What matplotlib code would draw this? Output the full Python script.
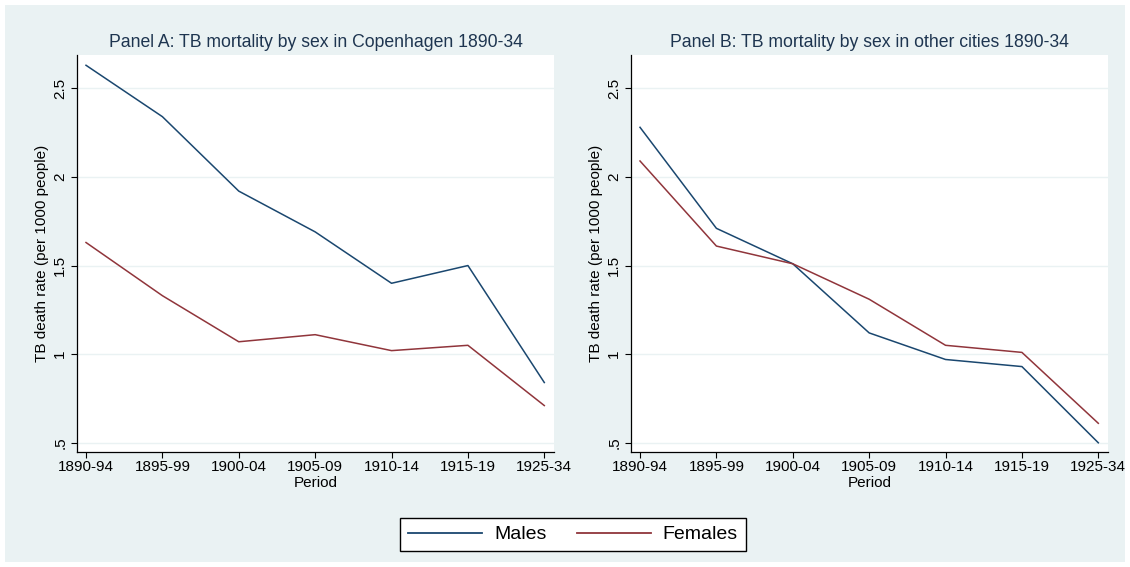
import matplotlib
matplotlib.use('Agg')
import matplotlib.pyplot as plt
from matplotlib.patches import Rectangle
from matplotlib.lines import Line2D

# data
periods = ['1890-94', '1895-99', '1900-04', '1905-09', '1910-14', '1915-19', '1925-34']
cph_males = [2.63, 2.34, 1.92, 1.69, 1.40, 1.50, 0.84]
cph_females = [1.63, 1.33, 1.07, 1.11, 1.02, 1.05, 0.71]
oth_males = [2.28, 1.71, 1.51, 1.12, 0.97, 0.93, 0.50]
oth_females = [2.09, 1.61, 1.51, 1.31, 1.05, 1.01, 0.61]
yticks = [0.5, 1, 1.5, 2, 2.5]
yticklabels = ['.5', '1', '1.5', '2', '2.5']

navy = '#1a476f'
maroon = '#90353b'
bg = '#eaf2f3'
title_col = '#1e3550'

plt.rcParams['font.family'] = ['Liberation Sans', 'DejaVu Sans']

W, H = 1130, 567
fig = plt.figure(figsize=(W / 100, H / 100), dpi=100)
fig.patches.append(Rectangle((5 / W, 5 / H), 1120 / W, 557 / H, transform=fig.transFigure,
                             facecolor=bg, edgecolor='none', zorder=-10))


def panel(left, right, males, females, title):
    ax = fig.add_axes([left / W, 1 - 452 / H, (right - left) / W, (452 - 55) / H])
    x = range(len(periods))
    ax.plot(x, males, color=navy, lw=1.1)
    ax.plot(x, females, color=maroon, lw=1.1)
    ax.set_xlim(-0.118, 6.127)
    ax.set_ylim(0.448, 2.688)
    ax.set_xticks(list(x))
    ax.set_xticklabels(periods, fontsize=11)
    ax.set_yticks(yticks)
    ax.set_yticklabels(yticklabels, fontsize=11, rotation=90, va='center')
    ax.grid(axis='y', color=bg, lw=1.0)
    ax.set_axisbelow(True)
    for s in ['top', 'right']:
        ax.spines[s].set_visible(False)
    for s in ['left', 'bottom']:
        ax.spines[s].set_color('black')
        ax.spines[s].set_linewidth(0.9)
    ax.tick_params(length=4, width=0.8, pad=2)
    ax.tick_params(axis='y', pad=3)
    ax.set_xlabel('Period', fontsize=11, labelpad=1)
    ax.set_ylabel('TB death rate (per 1000 people)', fontsize=11, labelpad=3)
    ax.set_title(title, fontsize=12.7, color=title_col, pad=6)
    return ax


panel(77, 554, cph_males, cph_females, 'Panel A: TB mortality by sex in Copenhagen 1890-34')
panel(631, 1108, oth_males, oth_females, 'Panel B: TB mortality by sex in other cities 1890-34')

handles = [Line2D([], [], color=navy, lw=1.3), Line2D([], [], color=maroon, lw=1.3)]
leg = fig.legend(handles, ['Males', 'Females'], loc='center', ncol=2,
                 bbox_to_anchor=(573 / W, 1 - 534.5 / H), fontsize=14,
                 frameon=True, fancybox=False, edgecolor='black', handlelength=3.8,
                 columnspacing=1.55, handletextpad=0.62, borderpad=0.4, framealpha=1)
leg.get_frame().set_linewidth(1.0)

fig.savefig('out.png', dpi=100, facecolor='white')
